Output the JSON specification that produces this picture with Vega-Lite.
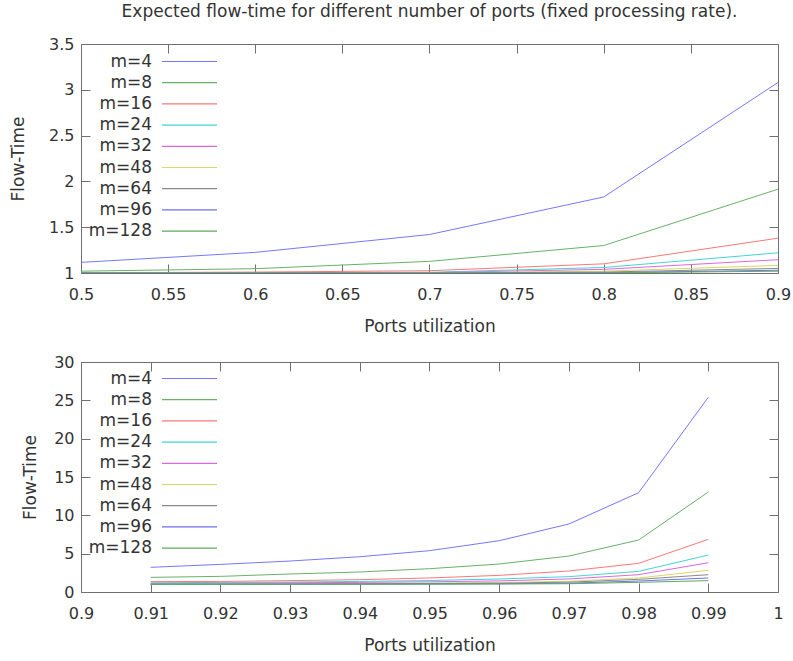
{
  "$schema": "https://vega.github.io/schema/vega-lite/v6.json",
  "background": "white",
  "padding": {"left": 9, "top": 2, "right": 4, "bottom": 4},
  "config": {
    "font": "DejaVu Sans",
    "view": {"stroke": "#707070", "strokeWidth": 1},
    "axis": {"labelFont": "DejaVu Sans", "titleFont": "DejaVu Sans", "labelFontSize": 16, "titleFontSize": 17, "titleFontWeight": "normal", "labelColor": "#333333", "titleColor": "#333333", "tickColor": "#707070", "domain": false, "grid": false, "tickSize": -9, "labelFlush": false},
    "legend": {"labelFont": "DejaVu Sans", "labelFontSize": 17, "labelColor": "#333333"},
    "title": {"font": "DejaVu Sans", "fontSize": 17, "fontWeight": "normal", "color": "#333333"}
  },
  "datasets": {
    "top": [
      {"u": 0.5, "ft": 1.116, "m": "m=4"}, {"u": 0.6, "ft": 1.225, "m": "m=4"}, {"u": 0.7, "ft": 1.42, "m": "m=4"}, {"u": 0.8, "ft": 1.83, "m": "m=4"}, {"u": 0.9, "ft": 3.08, "m": "m=4"},
      {"u": 0.5, "ft": 1.02, "m": "m=8"}, {"u": 0.6, "ft": 1.047, "m": "m=8"}, {"u": 0.7, "ft": 1.127, "m": "m=8"}, {"u": 0.8, "ft": 1.30, "m": "m=8"}, {"u": 0.9, "ft": 1.915, "m": "m=8"},
      {"u": 0.5, "ft": 1.002, "m": "m=16"}, {"u": 0.6, "ft": 1.01, "m": "m=16"}, {"u": 0.7, "ft": 1.025, "m": "m=16"}, {"u": 0.8, "ft": 1.10, "m": "m=16"}, {"u": 0.9, "ft": 1.38, "m": "m=16"},
      {"u": 0.5, "ft": 1.0, "m": "m=24"}, {"u": 0.6, "ft": 1.002, "m": "m=24"}, {"u": 0.7, "ft": 1.008, "m": "m=24"}, {"u": 0.8, "ft": 1.06, "m": "m=24"}, {"u": 0.9, "ft": 1.22, "m": "m=24"},
      {"u": 0.5, "ft": 1.0, "m": "m=32"}, {"u": 0.6, "ft": 1.0, "m": "m=32"}, {"u": 0.7, "ft": 1.003, "m": "m=32"}, {"u": 0.8, "ft": 1.04, "m": "m=32"}, {"u": 0.9, "ft": 1.145, "m": "m=32"},
      {"u": 0.5, "ft": 1.0, "m": "m=48"}, {"u": 0.6, "ft": 1.0, "m": "m=48"}, {"u": 0.7, "ft": 1.001, "m": "m=48"}, {"u": 0.8, "ft": 1.02, "m": "m=48"}, {"u": 0.9, "ft": 1.083, "m": "m=48"},
      {"u": 0.5, "ft": 1.0, "m": "m=64"}, {"u": 0.6, "ft": 1.0, "m": "m=64"}, {"u": 0.7, "ft": 1.0, "m": "m=64"}, {"u": 0.8, "ft": 1.01, "m": "m=64"}, {"u": 0.9, "ft": 1.05, "m": "m=64"},
      {"u": 0.5, "ft": 1.0, "m": "m=96"}, {"u": 0.6, "ft": 1.0, "m": "m=96"}, {"u": 0.7, "ft": 1.0, "m": "m=96"}, {"u": 0.8, "ft": 1.003, "m": "m=96"}, {"u": 0.9, "ft": 1.03, "m": "m=96"},
      {"u": 0.5, "ft": 1.0, "m": "m=128"}, {"u": 0.6, "ft": 1.0, "m": "m=128"}, {"u": 0.7, "ft": 1.0, "m": "m=128"}, {"u": 0.8, "ft": 1.001, "m": "m=128"}, {"u": 0.9, "ft": 1.02, "m": "m=128"}
    ],
    "bottom": [
      {"u": 0.91, "ft": 3.22, "m": "m=4"}, {"u": 0.92, "ft": 3.6, "m": "m=4"}, {"u": 0.93, "ft": 4.04, "m": "m=4"}, {"u": 0.94, "ft": 4.6, "m": "m=4"}, {"u": 0.95, "ft": 5.39, "m": "m=4"}, {"u": 0.96, "ft": 6.69, "m": "m=4"}, {"u": 0.97, "ft": 8.87, "m": "m=4"}, {"u": 0.98, "ft": 12.95, "m": "m=4"}, {"u": 0.99, "ft": 25.4, "m": "m=4"},
      {"u": 0.91, "ft": 1.91, "m": "m=8"}, {"u": 0.92, "ft": 2.04, "m": "m=8"}, {"u": 0.93, "ft": 2.35, "m": "m=8"}, {"u": 0.94, "ft": 2.61, "m": "m=8"}, {"u": 0.95, "ft": 3.04, "m": "m=8"}, {"u": 0.96, "ft": 3.65, "m": "m=8"}, {"u": 0.97, "ft": 4.69, "m": "m=8"}, {"u": 0.98, "ft": 6.78, "m": "m=8"}, {"u": 0.99, "ft": 13.04, "m": "m=8"},
      {"u": 0.91, "ft": 1.35, "m": "m=16"}, {"u": 0.92, "ft": 1.38, "m": "m=16"}, {"u": 0.93, "ft": 1.48, "m": "m=16"}, {"u": 0.94, "ft": 1.61, "m": "m=16"}, {"u": 0.95, "ft": 1.83, "m": "m=16"}, {"u": 0.96, "ft": 2.17, "m": "m=16"}, {"u": 0.97, "ft": 2.74, "m": "m=16"}, {"u": 0.98, "ft": 3.74, "m": "m=16"}, {"u": 0.99, "ft": 6.87, "m": "m=16"},
      {"u": 0.91, "ft": 1.2, "m": "m=24"}, {"u": 0.92, "ft": 1.25, "m": "m=24"}, {"u": 0.93, "ft": 1.3, "m": "m=24"}, {"u": 0.94, "ft": 1.38, "m": "m=24"}, {"u": 0.95, "ft": 1.5, "m": "m=24"}, {"u": 0.96, "ft": 1.7, "m": "m=24"}, {"u": 0.97, "ft": 2.0, "m": "m=24"}, {"u": 0.98, "ft": 2.69, "m": "m=24"}, {"u": 0.99, "ft": 4.82, "m": "m=24"},
      {"u": 0.91, "ft": 1.12, "m": "m=32"}, {"u": 0.92, "ft": 1.15, "m": "m=32"}, {"u": 0.93, "ft": 1.2, "m": "m=32"}, {"u": 0.94, "ft": 1.25, "m": "m=32"}, {"u": 0.95, "ft": 1.33, "m": "m=32"}, {"u": 0.96, "ft": 1.45, "m": "m=32"}, {"u": 0.97, "ft": 1.7, "m": "m=32"}, {"u": 0.98, "ft": 2.26, "m": "m=32"}, {"u": 0.99, "ft": 3.82, "m": "m=32"},
      {"u": 0.91, "ft": 1.05, "m": "m=48"}, {"u": 0.92, "ft": 1.07, "m": "m=48"}, {"u": 0.93, "ft": 1.09, "m": "m=48"}, {"u": 0.94, "ft": 1.12, "m": "m=48"}, {"u": 0.95, "ft": 1.17, "m": "m=48"}, {"u": 0.96, "ft": 1.25, "m": "m=48"}, {"u": 0.97, "ft": 1.4, "m": "m=48"}, {"u": 0.98, "ft": 1.83, "m": "m=48"}, {"u": 0.99, "ft": 2.83, "m": "m=48"},
      {"u": 0.91, "ft": 1.03, "m": "m=64"}, {"u": 0.92, "ft": 1.04, "m": "m=64"}, {"u": 0.93, "ft": 1.05, "m": "m=64"}, {"u": 0.94, "ft": 1.07, "m": "m=64"}, {"u": 0.95, "ft": 1.1, "m": "m=64"}, {"u": 0.96, "ft": 1.15, "m": "m=64"}, {"u": 0.97, "ft": 1.28, "m": "m=64"}, {"u": 0.98, "ft": 1.65, "m": "m=64"}, {"u": 0.99, "ft": 2.26, "m": "m=64"},
      {"u": 0.91, "ft": 1.01, "m": "m=96"}, {"u": 0.92, "ft": 1.01, "m": "m=96"}, {"u": 0.93, "ft": 1.02, "m": "m=96"}, {"u": 0.94, "ft": 1.03, "m": "m=96"}, {"u": 0.95, "ft": 1.05, "m": "m=96"}, {"u": 0.96, "ft": 1.08, "m": "m=96"}, {"u": 0.97, "ft": 1.15, "m": "m=96"}, {"u": 0.98, "ft": 1.43, "m": "m=96"}, {"u": 0.99, "ft": 1.83, "m": "m=96"},
      {"u": 0.91, "ft": 1.0, "m": "m=128"}, {"u": 0.92, "ft": 1.0, "m": "m=128"}, {"u": 0.93, "ft": 1.01, "m": "m=128"}, {"u": 0.94, "ft": 1.01, "m": "m=128"}, {"u": 0.95, "ft": 1.02, "m": "m=128"}, {"u": 0.96, "ft": 1.04, "m": "m=128"}, {"u": 0.97, "ft": 1.08, "m": "m=128"}, {"u": 0.98, "ft": 1.26, "m": "m=128"}, {"u": 0.99, "ft": 1.48, "m": "m=128"}
    ]
  },
  "vconcat": [
    {
      "width": 697, "height": 229,
      "title": {"text": "Expected flow-time for different number of ports (fixed processing rate).", "anchor": "middle", "offset": 15},
      "data": {"name": "top"},
      "layer": [
        {
          "mark": {"type": "line", "strokeWidth": 1, "clip": true},
          "encoding": {
            "x": {"field": "u", "type": "quantitative", "scale": {"domain": [0.5, 0.9], "nice": false, "zero": false}, "axis": {"title": "Ports utilization", "values": [0.5, 0.55, 0.6, 0.65, 0.7, 0.75, 0.8, 0.85, 0.9], "format": "~g", "labelPadding": 22, "titlePadding": 16}},
            "y": {"field": "ft", "type": "quantitative", "scale": {"domain": [1, 3.5], "nice": false, "zero": false}, "axis": {"title": "Flow-Time", "values": [1, 1.5, 2, 2.5, 3, 3.5], "format": "~g", "labelPadding": 16, "titlePadding": 21}},
            "color": {"field": "m", "type": "nominal", "sort": null,
              "scale": {"domain": ["m=4", "m=8", "m=16", "m=24", "m=32", "m=48", "m=64", "m=96", "m=128"], "range": ["#7777ff", "#66b366", "#ff7777", "#44d4d4", "#e066e0", "#d8d866", "#8a8a8a", "#6f6ff0", "#5eaa5e"]},
              "legend": {"title": null, "orient": "none", "legendX": 100, "legendY": 9, "symbolType": "M-5,0H5", "symbolSize": 121, "symbolStrokeWidth": 1.2, "labelAlign": "right", "labelOffset": -46, "rowPadding": 3.2}}
          }
        },
        {
          "mark": {"type": "line", "opacity": 0},
          "encoding": {
            "x": {"field": "u", "type": "quantitative", "scale": {"domain": [0.5, 0.9], "nice": false, "zero": false}, "axis": {"orient": "top", "title": null, "labels": false, "values": [0.5, 0.55, 0.6, 0.65, 0.7, 0.75, 0.8, 0.85, 0.9]}},
            "y": {"field": "ft", "type": "quantitative", "scale": {"domain": [1, 3.5], "nice": false, "zero": false}, "axis": {"orient": "right", "title": null, "labels": false, "values": [1, 1.5, 2, 2.5, 3, 3.5]}},
            "detail": {"field": "m"}
          }
        }
      ],
      "resolve": {"axis": {"x": "independent", "y": "independent"}}
    },
    {
      "width": 697, "height": 230,
      "data": {"name": "bottom"},
      "layer": [
        {
          "mark": {"type": "line", "strokeWidth": 1, "clip": true},
          "encoding": {
            "x": {"field": "u", "type": "quantitative", "scale": {"domain": [0.9, 1.0], "nice": false, "zero": false}, "axis": {"title": "Ports utilization", "values": [0.9, 0.91, 0.92, 0.93, 0.94, 0.95, 0.96, 0.97, 0.98, 0.99, 1.0], "format": "~g", "labelPadding": 22, "titlePadding": 16}},
            "y": {"field": "ft", "type": "quantitative", "scale": {"domain": [0, 30], "nice": false, "zero": false}, "axis": {"title": "Flow-Time", "values": [0, 5, 10, 15, 20, 25, 30], "format": "~g", "labelPadding": 16, "titlePadding": 14}},
            "color": {"field": "m", "type": "nominal", "sort": null,
              "scale": {"domain": ["m=4", "m=8", "m=16", "m=24", "m=32", "m=48", "m=64", "m=96", "m=128"], "range": ["#7777ff", "#66b366", "#ff7777", "#44d4d4", "#e066e0", "#d8d866", "#8a8a8a", "#6f6ff0", "#5eaa5e"]},
              "legend": {"title": null, "orient": "none", "legendX": 100, "legendY": 8, "symbolType": "M-5,0H5", "symbolSize": 121, "symbolStrokeWidth": 1.2, "labelAlign": "right", "labelOffset": -46, "rowPadding": 3.2}}
          }
        },
        {
          "mark": {"type": "line", "opacity": 0},
          "encoding": {
            "x": {"field": "u", "type": "quantitative", "scale": {"domain": [0.9, 1.0], "nice": false, "zero": false}, "axis": {"orient": "top", "title": null, "labels": false, "values": [0.9, 0.91, 0.92, 0.93, 0.94, 0.95, 0.96, 0.97, 0.98, 0.99, 1.0]}},
            "y": {"field": "ft", "type": "quantitative", "scale": {"domain": [0, 30], "nice": false, "zero": false}, "axis": {"orient": "right", "title": null, "labels": false, "values": [0, 5, 10, 15, 20, 25, 30]}},
            "detail": {"field": "m"}
          }
        }
      ],
      "resolve": {"axis": {"x": "independent", "y": "independent"}}
    }
  ],
  "spacing": 18,
  "resolve": {"scale": {"color": "independent"}, "legend": {"color": "independent"}}
}
